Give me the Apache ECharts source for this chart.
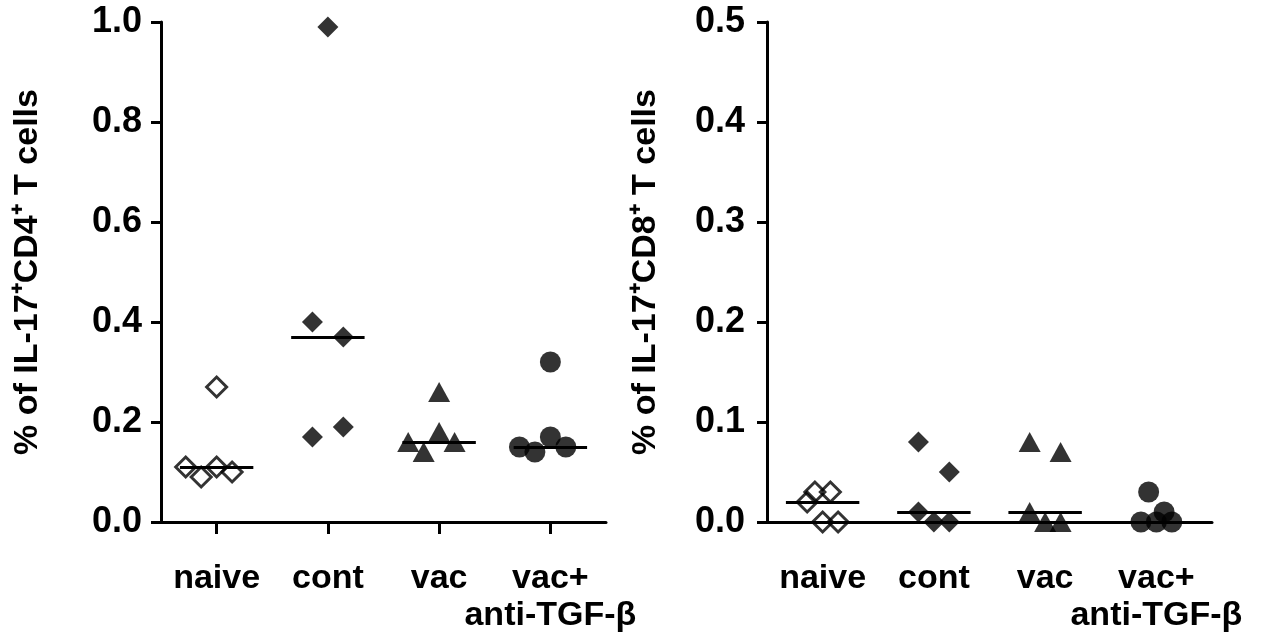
<!DOCTYPE html>
<html>
<head>
<meta charset="utf-8">
<script src="https://cdn.jsdelivr.net/npm/echarts@6/dist/echarts.min.js"></script>
<style>
  html, body { margin: 0; padding: 0; background: #fff; }
  #chart { width: 1269px; height: 644px; }
</style>
</head>
<body>
<div id="chart"></div>
<script>
// ---- Data ----
const categories = ['naive', 'cont', 'vac', 'vac+\nanti-TGF-β'];
const cd4TickLabels = ['0.0', '0.2', '0.4', '0.6', '0.8', '1.0'];
const cd8TickLabels = ['0.0', '0.1', '0.2', '0.3', '0.4', '0.5'];

const cd4Naive   = [0.27, 0.11, 0.09, 0.11, 0.10];
const cd4Cont    = [0.99, 0.40, 0.37, 0.17, 0.19];
const cd4Vac     = [0.26, 0.18, 0.16, 0.14, 0.16];
const cd4VacAnti = [0.32, 0.15, 0.14, 0.17, 0.15];

const cd8Naive   = [0.03, 0.03, 0.02, 0.00, 0.00];
const cd8Cont    = [0.08, 0.05, 0.01, 0.00, 0.00];
const cd8Vac     = [0.08, 0.07, 0.01, 0.00, 0.00];
const cd8VacAnti = [0.03, 0.01, 0.00, 0.00, 0.00];

// horizontal scatter slots of each point (jitter, in point-width units)
const cd4NaiveSlot   = [0, -2, -1, 0, 1];
const cd4ContSlot    = [0, -1, 1, -1, 1];
const cd4VacSlot     = [0, 0, -2, -1, 1];
const cd4VacAntiSlot = [0, -2, -1, 0, 1];

const cd8NaiveSlot   = [-0.5, 0.5, -1, 0, 1];
const cd8ContSlot    = [-1, 1, -1, 0, 1];
const cd8VacSlot     = [-1, 1, -1, 0, 1];
const cd8VacAntiSlot = [-0.5, 0.5, -1, 0, 1];

// ---- Styling ----
const SLOT = 0.139;
const HALF = 0.33;
const FONT = 'Liberation Sans, Arial, Helvetica, sans-serif';

function median(arr) {
  const s = arr.slice().sort((a, b) => a - b);
  const n = s.length;
  return n % 2 ? s[(n - 1) / 2] : (s[n / 2 - 1] + s[n / 2]) / 2;
}

const shapes = [
  { symbol: 'diamond', size: 20, hollow: true },
  { symbol: 'diamond', size: 21, hollow: false },
  { symbol: 'triangle', size: [22, 20], hollow: false },
  { symbol: 'circle', size: 21, hollow: false }
];

function groupSeries(values, slots, gi, xIdx, yIdx) {
  const c = gi + 1;
  const shp = shapes[gi];
  const m = median(values);
  return {
    type: 'scatter',
    xAxisIndex: xIdx, yAxisIndex: yIdx,
    symbol: shp.symbol,
    symbolSize: shp.size,
    clip: false,
    silent: true,
    itemStyle: shp.hollow
      ? { color: 'rgba(0,0,0,0)', borderColor: '#000', borderWidth: 3 }
      : { color: '#000' },
    data: values.map((v, i) => [c + slots[i] * SLOT, v]),
    markLine: {
      silent: true,
      symbol: ['none', 'none'],
      label: { show: false },
      lineStyle: { color: '#000', width: 3, type: 'solid' },
      data: [[{ coord: [c - HALF, m] }, { coord: [c + HALF, m] }]],
      animation: false
    },
    z: 3
  };
}

const catAxis = (grid, showTicks) => ({
  type: 'category', gridIndex: grid, position: 'bottom',
  data: categories,
  boundaryGap: true,
  splitLine: { show: false },
  axisLine: { show: true, onZero: false, lineStyle: { color: '#000', width: 3 } },
  axisTick: { show: showTicks, alignWithLabel: true, interval: 0, length: 12, lineStyle: { color: '#000', width: 3 } },
  axisLabel: {
    interval: 0,
    color: '#000', fontFamily: FONT, fontWeight: 'bold', fontSize: 34,
    lineHeight: 37, margin: 38, align: 'center'
  }
});

const valXAxis = (grid) => ({
  type: 'value', gridIndex: grid, min: 0.5, max: 4.5, show: false,
  splitLine: { show: false }
});

const yAxisCommon = (grid, max, interval, labels, name, gap, margin) => ({
  type: 'value', gridIndex: grid, min: 0, max: max, interval: interval,
  splitLine: { show: false },
  axisLine: { show: true, lineStyle: { color: '#000', width: 3 } },
  axisTick: { show: true, length: 10, lineStyle: { color: '#000', width: 3 } },
  axisLabel: {
    formatter: v => labels[Math.round(v / interval)],
    color: '#000', fontFamily: FONT, fontWeight: 'bold', fontSize: 36, margin: margin
  },
  name: name,
  nameLocation: 'middle',
  nameRotate: 90,
  nameGap: gap,
  nameTextStyle: { color: '#000', fontFamily: FONT, fontWeight: 'bold', fontSize: 34, lineHeight: 40 }
});

const option = {
  animation: false,
  backgroundColor: '#fff',
  grid: [
    { left: 161, top: 22, width: 445, height: 500 },
    { left: 767, top: 22, width: 445, height: 500 }
  ],
  xAxis: [
    catAxis(0, true),
    valXAxis(0),
    catAxis(1, false),
    valXAxis(1)
  ],
  yAxis: [
    yAxisCommon(0, 1.0, 0.2, cd4TickLabels, '% of IL-17⁺CD4⁺ T cells', 113, 19),
    yAxisCommon(1, 0.5, 0.1, cd8TickLabels, '% of IL-17⁺CD8⁺ T cells', 101, 22)
  ],
  series: [
    groupSeries(cd4Naive, cd4NaiveSlot, 0, 1, 0),
    groupSeries(cd4Cont, cd4ContSlot, 1, 1, 0),
    groupSeries(cd4Vac, cd4VacSlot, 2, 1, 0),
    groupSeries(cd4VacAnti, cd4VacAntiSlot, 3, 1, 0),
    groupSeries(cd8Naive, cd8NaiveSlot, 0, 3, 1),
    groupSeries(cd8Cont, cd8ContSlot, 1, 3, 1),
    groupSeries(cd8Vac, cd8VacSlot, 2, 3, 1),
    groupSeries(cd8VacAnti, cd8VacAntiSlot, 3, 3, 1)
  ]
};

const chart = echarts.init(document.getElementById('chart'), null, { renderer: 'canvas' });
chart.setOption(option);
</script>
</body>
</html>
